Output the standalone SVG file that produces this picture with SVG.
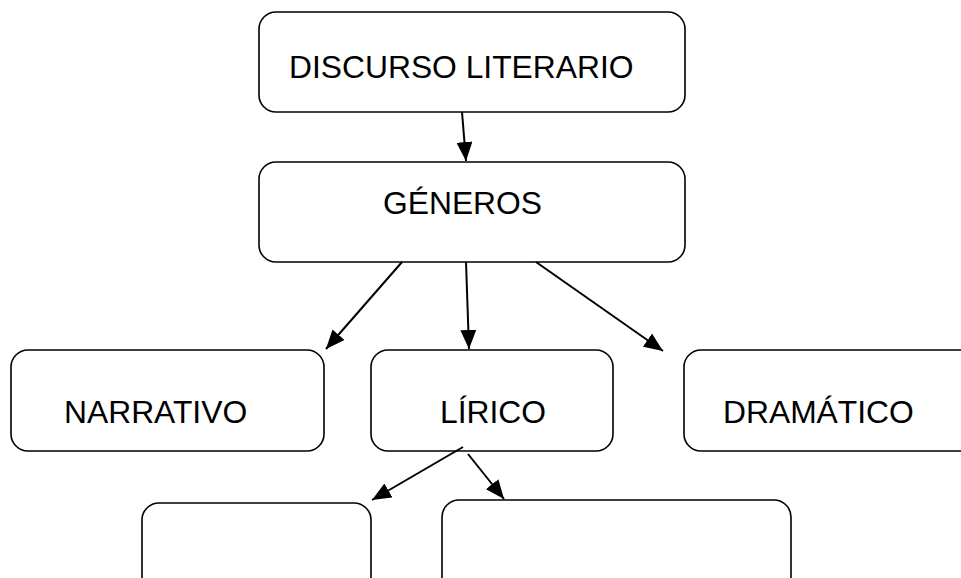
<svg xmlns="http://www.w3.org/2000/svg" width="961" height="578" viewBox="0 0 961 578">
<style>
.box{fill:#fff;stroke:#000;stroke-width:1.6}
.lbl{font-family:"Liberation Sans",Arial,sans-serif;font-size:31.8px;fill:#000}
.con{stroke:#000;stroke-width:2;fill:none;marker-end:url(#ah)}
</style>
<defs>
<marker id="ah" markerUnits="userSpaceOnUse" markerWidth="20" markerHeight="16" refX="19" refY="8" orient="auto" viewBox="0 0 20 16">
<path d="M0,0 L19,8 L0,16 Z" fill="#000"/>
</marker>
</defs>
<g id="n-discurso"><rect class="box" x="259" y="12" width="426" height="100" rx="17"/><text class="lbl" x="289" y="78">DISCURSO LITERARIO</text></g>
<g id="n-generos"><rect class="box" x="259" y="162" width="426" height="100" rx="17"/><text class="lbl" x="383" y="214">GÉNEROS</text></g>
<g id="n-narrativo"><rect class="box" x="11" y="350" width="313" height="101" rx="17"/><text class="lbl" x="64" y="423">NARRATIVO</text></g>
<g id="n-lirico"><rect class="box" x="371" y="350" width="242" height="101" rx="17"/><text class="lbl" x="440" y="423">LÍRICO</text></g>
<g id="n-dramatico"><rect class="box" x="684" y="350" width="300" height="101" rx="17"/><text class="lbl" x="723" y="423">DRAMÁTICO</text></g>
<g id="n-empty1"><rect class="box" x="142" y="503" width="229" height="100" rx="17"/></g>
<g id="n-empty2"><rect class="box" x="442" y="500" width="349" height="100" rx="17"/></g>
<g id="connectors">
<line class="con" x1="462" y1="112" x2="466" y2="161"/>
<line class="con" x1="402" y1="262" x2="326" y2="349"/>
<line class="con" x1="466" y1="262" x2="469" y2="349"/>
<line class="con" x1="536" y1="262" x2="663" y2="351"/>
<line class="con" x1="463" y1="447" x2="372" y2="500"/>
<line class="con" x1="468" y1="454" x2="504" y2="499"/>
</g>
</svg>
